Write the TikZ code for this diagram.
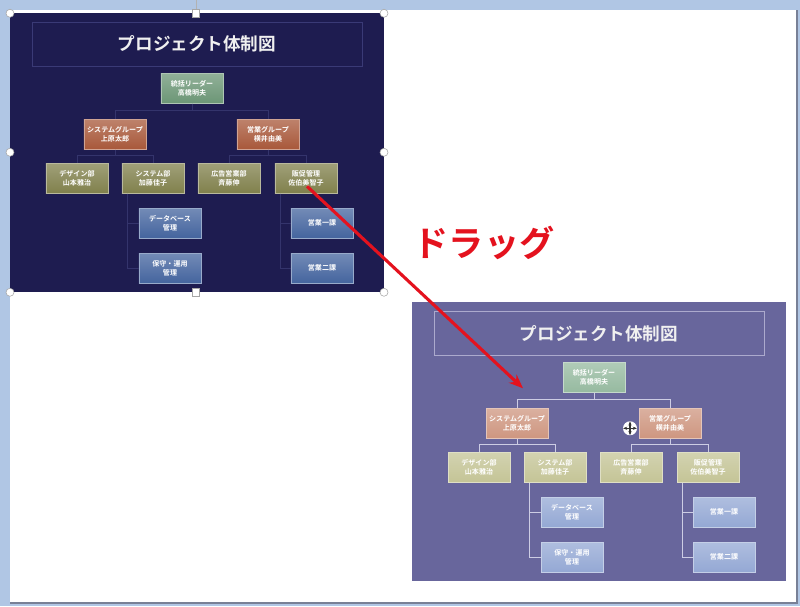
\documentclass[tikz,border=0pt]{standalone}
\usepackage{fontspec}
\setmainfont{Noto Sans CJK JP}[BoldFont={Noto Sans CJK JP Bold}]
\usepackage{xcolor}
\usepackage{tikz}
\usetikzlibrary{arrows.meta}

\definecolor{framebg}{RGB}{176,198,228}
\definecolor{slideedge}{RGB}{120,128,150}
\definecolor{dpanel}{RGB}{30,28,80}
\definecolor{dtitle}{RGB}{58,58,118}
\definecolor{dgreen}{RGB}{108,150,118}
\definecolor{dorange}{RGB}{168,88,58}
\definecolor{dolive}{RGB}{128,128,76}
\definecolor{dblue}{RGB}{68,100,158}
\definecolor{dline}{RGB}{52,52,108}
\definecolor{lpanel}{RGB}{104,102,156}
\definecolor{ltitle}{RGB}{172,170,205}
\definecolor{lgreen}{RGB}{150,186,160}
\definecolor{lorange}{RGB}{206,150,128}
\definecolor{lolive}{RGB}{196,196,150}
\definecolor{lblue}{RGB}{148,168,212}
\definecolor{lline}{RGB}{205,205,228}
\definecolor{dragred}{RGB}{228,18,30}

\begin{document}
\begin{tikzpicture}[x=0.025cm, y=-0.025cm,
    box/.style={rectangle, minimum width=1.55cm, minimum height=0.75cm, inner sep=0pt,
      align=center, text=white, font=\fontsize{5}{6}\selectfont\bfseries},
    titlebox/.style={rectangle, minimum width=8.25cm, minimum height=1.08cm,
      text=white!88!gray, font=\fontsize{12.5}{14}\selectfont\bfseries},
    handle/.style={circle, draw=gray!70, fill=white, inner sep=0pt, minimum size=0.2cm},
    sqhandle/.style={rectangle, draw=gray!70, fill=white, inner sep=0pt, minimum size=0.18cm}
    ]
    % screen and slide
    \fill[framebg] (0,0) rectangle (800,606);
    \fill[white] (10,10) rectangle (797,603);
    \draw[slideedge, line width=1.2pt] (797,10) -- (797,603) -- (10,603);

    % the chart before and after the drag
    \foreach \p/\dx/\dy/\pan/\tl/\cg/\co/\cv/\cb/\ln in
      {d/0/0/dpanel/dtitle/dgreen/dorange/dolive/dblue/dline,
       l/402/289/lpanel/ltitle/lgreen/lorange/lolive/lblue/lline} {
      \begin{scope}[shift={(\dx,\dy)}]
        \fill[\pan] (10,13) rectangle (384,292);
        \node[titlebox, draw=\tl] (\p title) at (197,44) {プロジェクト体制図};
        \node[box, top color=\cg!75!white, bottom color=\cg, draw=\cg!55!white] (\p top) at (192,88) {統括リーダー\\高橋明夫};
        \node[box, top color=\co!75!white, bottom color=\co, draw=\co!55!white] (\p sys) at (115,134) {システムグループ\\上原太郎};
        \node[box, top color=\co!75!white, bottom color=\co, draw=\co!55!white] (\p sales) at (268,134) {営業グループ\\横井由美};
        \node[box, top color=\cv!75!white, bottom color=\cv, draw=\cv!55!white] (\p design) at (77,178) {デザイン部\\山本雅治};
        \node[box, top color=\cv!75!white, bottom color=\cv, draw=\cv!55!white] (\p sysd) at (153,178) {システム部\\加藤佳子};
        \node[box, top color=\cv!75!white, bottom color=\cv, draw=\cv!55!white] (\p ad) at (229,178) {広告営業部\\斉藤伸};
        \node[box, top color=\cv!75!white, bottom color=\cv, draw=\cv!55!white] (\p promo) at (306,178) {販促管理\\佐伯美智子};
        \node[box, top color=\cb!75!white, bottom color=\cb, draw=\cb!55!white] (\p db) at (170,223) {データベース\\管理};
        \node[box, top color=\cb!75!white, bottom color=\cb, draw=\cb!55!white] (\p ops) at (170,268) {保守・運用\\管理};
        \node[box, top color=\cb!75!white, bottom color=\cb, draw=\cb!55!white] (\p sec1) at (322,223) {営業一課};
        \node[box, top color=\cb!75!white, bottom color=\cb, draw=\cb!55!white] (\p sec2) at (322,268) {営業二課};

        \draw[\ln, line width=0.6pt] (\p top.south) -- ++(0,7) -| (\p sys.north);
        \draw[\ln, line width=0.6pt] (\p top.south) -- ++(0,7) -| (\p sales.north);
        \draw[\ln, line width=0.6pt] (\p sys.south) -- ++(0,6) -| (\p design.north);
        \draw[\ln, line width=0.6pt] (\p sys.south) -- ++(0,6) -| (\p sysd.north);
        \draw[\ln, line width=0.6pt] (\p sales.south) -- ++(0,6) -| (\p ad.north);
        \draw[\ln, line width=0.6pt] (\p sales.south) -- ++(0,6) -| (\p promo.north);
        \draw[\ln, line width=0.6pt] (\p sysd.south west) ++(6,0) |- (\p db.west);
        \draw[\ln, line width=0.6pt] (\p sysd.south west) ++(6,0) |- (\p ops.west);
        \draw[\ln, line width=0.6pt] (\p promo.south west) ++(6,0) |- (\p sec1.west);
        \draw[\ln, line width=0.6pt] (\p promo.south west) ++(6,0) |- (\p sec2.west);
      \end{scope}
    }

    % selection handles
    \draw[gray!60] (196,0) -- (196,13);
    \node[handle] (h1) at (10,13) {};
    \node[handle] (h2) at (384,13) {};
    \node[handle] (h3) at (10,152) {};
    \node[handle] (h4) at (384,152) {};
    \node[handle] (h5) at (10,292) {};
    \node[handle] (h6) at (384,292) {};
    \node[sqhandle] (h7) at (196,13) {};
    \node[sqhandle] (h8) at (196,292) {};

    % move cursor
    \begin{scope}[shift={(630,428)}]
      \fill[white] (0,0) circle (7);
      \draw[black!80, line width=0.9pt, {Stealth[length=3pt]}-{Stealth[length=3pt]}] (-7,0) -- (7,0);
      \draw[black!80, line width=0.9pt, {Stealth[length=3pt]}-{Stealth[length=3pt]}] (0,-7) -- (0,7);
    \end{scope}

    % drag
    \coordinate (grab) at (307,186);
    \coordinate (drop) at (523,388);
    \draw[dragred, line width=2.2pt, -{Stealth[length=10pt, width=8pt]}] (grab) -- (drop);
    \node[text=dragred, font=\fontsize{25}{28}\selectfont\bfseries] (draglabel) at (484,243) {ドラッグ};
\end{tikzpicture}
\end{document}
